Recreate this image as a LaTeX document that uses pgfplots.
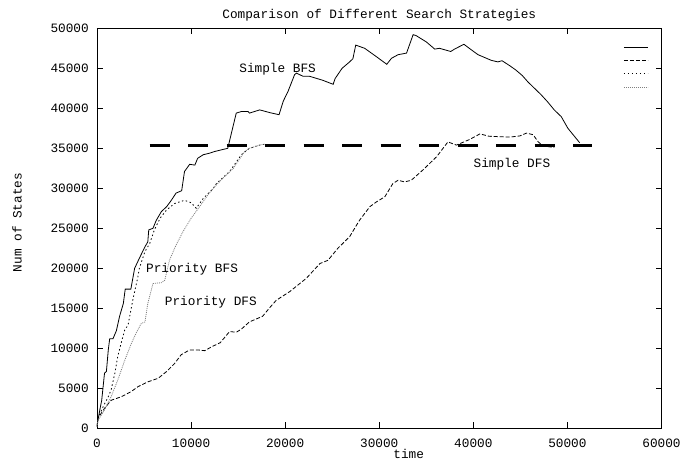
\documentclass[border=0pt]{standalone}
\usepackage{fontspec}
\setmainfont{Liberation Mono}
\usepackage{pgfplots}
\pgfplotsset{compat=1.18}
\newcommand{\cf}{\fontsize{12.8}{13}\selectfont}
\begin{document}
\begin{tikzpicture}
\useasboundingbox (-97bp,-32.7bp) rectangle (585bp,428.3bp);
\begin{axis}[
  at={(0,0)}, anchor=south west,
  width=564.5bp, height=400bp, scale only axis,
  xmin=0, xmax=60000, ymin=0, ymax=50000,
  xtick={0,10000,...,60000}, ytick={0,5000,...,50000},
  scaled ticks=false,
  /pgf/number format/.cd, set thousands separator={}, assume math mode=true, fixed, precision=0, /pgfplots/.cd,
  tick align=inside, major tick length=6bp,
  axis line style={line width=0.9bp},
  every tick/.style={black, line width=0.8bp},
  ticklabel style={font=\cf, inner sep=0pt},
  xticklabel style={anchor=north, yshift=-10.3bp},
  yticklabel style={anchor=east, xshift=-8bp},
  title={Comparison of Different Search Strategies},
  title style={font=\cf, at={(axis description cs:0.5,1)}, anchor=center, yshift=7.5bp, inner sep=0pt},
  xlabel={time},
  xlabel style={font=\cf, at={(axis description cs:0.5,0)}, anchor=center, yshift=-25.7bp, xshift=29.5bp, inner sep=0pt},
  ylabel={Num of States},
  ylabel style={font=\cf, at={(axis description cs:-0.1417,0.5145)}, anchor=center, inner sep=0pt},
  legend image code/.code={\draw[#1] (0bp,0bp) -- (24bp,0bp);},
  legend style={at={(axis cs:55970,48394)}, anchor=north west, draw=none, fill=none, inner sep=0pt, outer sep=0pt, row sep=0pt, column sep=0pt,
    nodes={inner sep=0pt, outer sep=0pt, minimum height=13.1bp, text width=0pt}},
]
\addplot[black, line width=0.8bp] table[x expr=\thisrowno{0}*1000, y expr=\thisrowno{1}*1000] {
0 0.2
0.1 1.0
0.3 2.3
0.5 3.5
0.8 6.9
1.0 7.1
1.2 9.8
1.35 11.2
1.7 11.2
2.06 12.2
2.4 14.0
2.8 15.6
3.0 17.4
3.6 17.4
4.0 20.0
4.5 21.25
5.1 22.7
5.4 23.3
5.5 24.8
5.95 25.0
6.3 26.0
6.85 27.1
7.4 27.7
7.9 28.5
8.4 29.4
9.0 29.7
9.3 32.1
9.85 33.0
10.4 32.9
10.7 33.75
11.3 34.2
12.0 34.4
12.5 34.6
13.9 35.0
14.8 39.4
15.35 39.6
16.05 39.6
16.2 39.4
17.3 39.8
18.4 39.45
19.35 39.2
19.8 40.9
20.3 42.1
21.0 44.2
21.2 44.4
21.9 44.0
22.6 44.0
24.0 43.5
25.1 43.0
25.3 43.7
26.05 45.0
26.85 45.8
27.2 46.2
27.5 47.9
28.45 47.5
29.7 46.45
30.8 45.5
31.3 46.25
32.0 46.7
32.9 46.9
33.6 49.2
33.9 49.1
35.0 48.3
35.9 47.4
36.4 47.5
37.6 47.1
38.0 47.4
39.0 48.0
39.8 47.3
40.5 46.7
41.3 46.3
41.9 46.0
42.6 45.8
43.05 45.95
43.9 45.3
44.5 44.8
45.2 44.1
45.8 43.3
46.5 42.5
47.2 41.7
47.9 40.8
48.6 39.8
49.35 38.95
50.05 37.5
51.3 35.7
};
\addlegendentry{}
\addplot[black, line width=0.8bp, dash pattern=on 4bp off 2bp] table[x expr=\thisrowno{0}*1000, y expr=\thisrowno{1}*1000] {
0 0.2
0.1 1.25
0.8 2.5
1.5 3.5
2.6 3.95
3.65 4.6
4.35 5.2
5.4 5.8
6.5 6.25
7.4 7.1
8.25 8.1
8.95 9.2
9.85 9.8
10.7 9.8
11.45 9.7
12.2 10.2
13.1 10.7
14.1 12.1
14.8 12.0
15.35 12.4
16.2 13.3
17.6 14.0
18.3 15.0
19.05 16.0
20.5 17.1
22.25 18.75
23.7 20.6
24.55 21.0
25.6 22.5
26.85 23.95
27.9 26.0
29.0 27.7
29.7 28.3
30.6 28.95
31.45 30.6
32.0 31.0
32.7 30.8
33.4 31.0
34.65 32.3
36.1 33.95
37.3 35.8
38.2 35.4
39.6 36.1
40.7 36.8
41.7 36.5
43.9 36.4
44.95 36.55
45.65 36.9
46.35 36.7
46.9 35.8
47.4 35.3
48.6 35.1
};
\addlegendentry{}
\addplot[black, line width=0.8bp, dash pattern=on 1.5bp off 2.5bp] table[x expr=\thisrowno{0}*1000, y expr=\thisrowno{1}*1000] {
0 0.2
0.1 1.25
0.65 2.7
1.2 3.95
1.5 4.8
1.9 6.9
2.2 8.95
2.6 10.8
2.95 12.3
3.3 12.9
3.8 16.0
4.35 18.95
4.5 20.0
5.1 22.1
5.6 23.1
6.1 24.8
6.7 26.25
7.4 27.3
8.25 28.1
9.3 28.5
10.0 28.2
10.4 27.7
10.55 27.5
11.3 28.75
12.3 29.9
12.7 30.6
14.1 32.1
15.35 34.2
16.2 35.0
17.3 35.4
17.8 35.5
};
\addlegendentry{}
\addplot[gray, line width=0.8bp, dash pattern=on 1bp off 1bp] table[x expr=\thisrowno{0}*1000, y expr=\thisrowno{1}*1000] {
0 0.2
0.1 1.0
0.8 2.3
1.5 3.95
2.2 6.0
2.95 8.5
3.65 10.6
4.2 12.0
4.7 13.1
5.1 13.3
5.4 15.6
5.95 18.1
6.85 18.2
7.2 18.5
7.7 21.0
8.4 22.9
9.15 24.6
10.0 26.25
10.9 27.7
11.8 29.2
12.5 30.2
13.5 31.4
14.5 32.5
15.2 33.75
15.7 34.6
16.2 35.0
17.3 35.4
17.7 35.5
};
\addlegendentry{}
\addplot[black, line width=3bp, dash pattern=on 20bp off 18.5bp, forget plot] coordinates {(5600,35400) (52650,35400)};
\node[font=\cf, inner sep=0pt] at (axis cs:19200,44900) {Simple BFS};
\node[font=\cf, inner sep=0pt] at (axis cs:44100,33000) {Simple DFS};
\node[font=\cf, inner sep=0pt] at (axis cs:10100,19900) {Priority BFS};
\node[font=\cf, inner sep=0pt] at (axis cs:12100,15800) {Priority DFS};
\end{axis}
\end{tikzpicture}
\end{document}
